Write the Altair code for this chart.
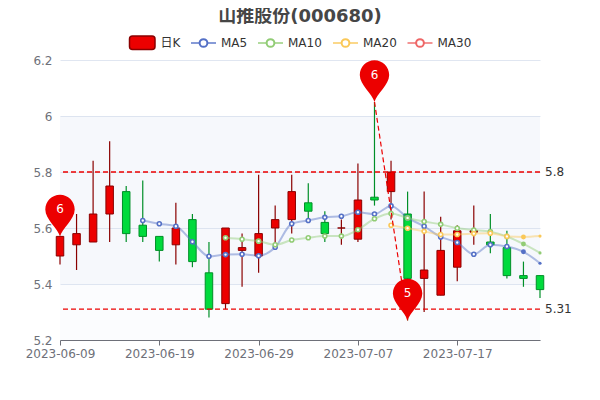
import json
import altair as alt
import pandas as pd

dates = ["2023-06-09","2023-06-12","2023-06-13","2023-06-14","2023-06-15","2023-06-16","2023-06-19",
         "2023-06-20","2023-06-21","2023-06-26","2023-06-27","2023-06-28","2023-06-29","2023-06-30",
         "2023-07-03","2023-07-04","2023-07-05","2023-07-06","2023-07-07","2023-07-10","2023-07-11",
         "2023-07-12","2023-07-13","2023-07-14","2023-07-17","2023-07-18","2023-07-19","2023-07-20",
         "2023-07-21","2023-07-24"]
opens  = [5.50,5.54,5.55,5.65,5.73,5.61,5.57,5.54,5.63,5.44,5.33,5.52,5.50,5.60,5.63,5.69,5.62,5.60,5.56,5.71,5.73,5.65,5.42,5.36,5.46,5.585,5.55,5.53,5.43,5.43]
closes = [5.57,5.58,5.65,5.75,5.58,5.57,5.52,5.60,5.48,5.31,5.60,5.53,5.58,5.63,5.73,5.66,5.58,5.60,5.70,5.70,5.80,5.42,5.45,5.52,5.59,5.59,5.54,5.43,5.42,5.38]
highs  = [5.57,5.65,5.84,5.91,5.75,5.77,5.57,5.69,5.65,5.55,5.60,5.58,5.79,5.68,5.79,5.76,5.66,5.63,5.83,6.05,5.84,5.73,5.73,5.64,5.61,5.68,5.65,5.59,5.48,5.43]
lows   = [5.47,5.45,5.55,5.55,5.55,5.55,5.48,5.47,5.46,5.28,5.31,5.39,5.44,5.54,5.58,5.63,5.55,5.54,5.55,5.68,5.63,5.27,5.30,5.36,5.41,5.54,5.51,5.42,5.39,5.35]
ma5  = [None]*5 + [5.627,5.615,5.606,5.551,5.499,5.505,5.506,5.501,5.531,5.615,5.627,5.638,5.642,5.656,5.650,5.679,5.636,5.606,5.568,5.548,5.506,5.540,5.534,5.515,5.474]
ma10 = [None]*10 + [5.565,5.560,5.553,5.540,5.557,5.565,5.571,5.571,5.594,5.633,5.652,5.636,5.623,5.613,5.599,5.593,5.587,5.570,5.543,5.511]
ma20 = [None]*20 + [5.610,5.599,5.588,5.577,5.577,5.580,5.581,5.570,5.568,5.571]
pin_dates = ["2023-06-09","2023-07-10","2023-07-12"]
pin_values = [5.57,6.05,5.27]
pin_labels = ["6","6","5"]
ref_values = [5.8,5.31]
ref_labels = ["5.8","5.31"]
y_ticks = [5.2,5.4,5.6,5.8,6.0,6.2]
x_ticks = list(range(0, 30, 6))

FONT = "DejaVu Sans, Noto Sans CJK SC"
RED, GREEN, DRED, DGREEN = "#ec0000", "#00da3c", "#8a0000", "#008f28"
MA_COLORS = {"MA5": "#5470c6", "MA10": "#91cc75", "MA20": "#fac858", "MA30": "#ee6666"}
PIN = "M0,0 C-2,-8 -14.7,-17 -14.7,-27 A14.7,14.7 0 1 1 14.7,-27 C14.7,-17 2,-8 0,0 Z"

candles = pd.DataFrame({"x": range(len(dates)), "d": dates, "o": opens, "c": closes, "h": highs, "l": lows})
candles["dir"] = ["up" if c >= o else "down" for o, c in zip(opens, closes)]

rows = []
for name, series in [("MA5", ma5), ("MA10", ma10), ("MA20", ma20)]:
    for i, v in enumerate(series):
        if v is not None:
            rows.append({"x": i, "v": v, "s": name})
ma = pd.DataFrame(rows)

x_axis = alt.Axis(values=x_ticks, labelExpr=json.dumps(dates) + "[datum.value]", labelAngle=0,
                  labelOverlap=False, labelFlush=False, labelBound=False,
                  grid=False, domainColor="#6e7079", tickColor="#6e7079", tickSize=5,
                  labelColor="#6e7079", labelFontSize=12, labelFont=FONT, labelPadding=3)
x_enc = alt.X("x:Q", scale=alt.Scale(domain=[0, len(dates) - 1], nice=False, zero=False, padding=0),
              title=None, axis=x_axis)
y_scale = alt.Scale(domain=[5.2, 6.2], nice=False, zero=False)
y_axis = alt.Axis(values=y_ticks, format="~g", title=None, domain=False, ticks=False,
                  gridColor="#e0e6f1", grid=True, labelColor="#6e7079", labelFontSize=12,
                  labelFont=FONT, labelPadding=8)
def Y(f):
    return alt.Y(f, scale=y_scale, axis=y_axis, title=None)
ma_stroke = alt.Color("s:N", scale=alt.Scale(domain=list(MA_COLORS), range=list(MA_COLORS.values())), legend=None)
wick_stroke = alt.Stroke("dir:N", scale=alt.Scale(domain=["up", "down"], range=[DRED, DGREEN]), legend=None)
body_fill = alt.Fill("dir:N", scale=alt.Scale(domain=["up", "down"], range=[RED, GREEN]), legend=None)

one = alt.Data(values=[{"a": 1}])

bands = alt.Chart(pd.DataFrame({"a": [5.4, 5.2], "b": [6.0, 5.4], "k": [0.2, 0.08]})).mark_rect(
    fill="#d2dbee", stroke=None).encode(
    y=Y("a:Q"), y2="b:Q", opacity=alt.Opacity("k:Q", scale=None))

wicks = alt.Chart(candles).mark_rule(strokeWidth=1.2).encode(
    x=x_enc, y=Y("l:Q"), y2="h:Q", stroke=wick_stroke)
bodies = alt.Chart(candles).mark_bar(size=7.5, strokeWidth=1).encode(
    x=x_enc, y=Y("o:Q"), y2="c:Q", fill=body_fill, stroke=wick_stroke)

lines = alt.Chart(ma).mark_line(interpolate="monotone", strokeWidth=2, opacity=0.45).encode(
    x=x_enc, y=Y("v:Q"), color=ma_stroke, detail="s:N")
open_pts = alt.Chart(ma[ma.x < 28]).mark_point(
    filled=False, fill="white", size=16, strokeWidth=1.6, opacity=1).encode(x=x_enc, y=Y("v:Q"), color=ma_stroke)
solid_a = alt.Chart(ma[ma.x == 28]).mark_point(filled=True, size=24, opacity=1).encode(x=x_enc, y=Y("v:Q"), color=ma_stroke)
solid_b = alt.Chart(ma[ma.x == 29]).mark_point(filled=True, size=10, opacity=1).encode(x=x_enc, y=Y("v:Q"), color=ma_stroke)

refs = alt.Chart(pd.DataFrame({"v": ref_values, "t": ref_labels}))
ref_rules = refs.mark_rule(color=RED, strokeWidth=1.3, strokeDash=[5, 3]).encode(y=Y("v:Q"))
ref_text = refs.mark_text(align="left", baseline="middle", fontSize=12, color="#333333", font=FONT).encode(
    x=alt.value(485), y=Y("v:Q"), text="t:N")

pins_df = pd.DataFrame({"x": [dates.index(d) for d in pin_dates], "v": pin_values, "t": pin_labels})
link = alt.Chart(pins_df.iloc[1:]).mark_line(
    color=RED, strokeWidth=1.2, strokeDash=[5, 3]).encode(x=x_enc, y=Y("v:Q"))
pins = alt.Chart(pins_df).mark_point(shape=PIN, filled=True, fill=RED, stroke=None, size=4, opacity=1).encode(
    x=x_enc, y=Y("v:Q"))
pin_text = alt.Chart(pins_df).mark_text(color="white", fontSize=12, dy=-27, baseline="middle", font=FONT).encode(
    x=x_enc, y=Y("v:Q"), text="t:N")

# legend: positions relative to the plot origin
legend = [
    alt.Chart(one).mark_rect(fill=RED, stroke=DRED, strokeWidth=1.5, cornerRadius=3).encode(
        x=alt.value(69.5), x2=alt.value(95), y=alt.value(-24), y2=alt.value(-10.5)),
    alt.Chart(one).mark_text(text="日K", align="left", baseline="middle", fontSize=12, color="#333333", font=FONT).encode(
        x=alt.value(100.5), y=alt.value(-17)),
]
for name, lx in [("MA5", 131), ("MA10", 198), ("MA20", 273), ("MA30", 347.5)]:
    col = MA_COLORS[name]
    legend += [
        alt.Chart(one).mark_rule(stroke=col, strokeWidth=2, opacity=0.7).encode(
            x=alt.value(lx), x2=alt.value(lx + 25), y=alt.value(-17)),
        alt.Chart(one).mark_point(filled=False, fill="white", stroke=col, size=60, strokeWidth=2, opacity=1).encode(
            x=alt.value(lx + 12.5), y=alt.value(-17)),
        alt.Chart(one).mark_text(text=name, align="left", baseline="middle", fontSize=12, color="#333333", font=FONT).encode(
            x=alt.value(lx + 30), y=alt.value(-17)),
    ]

chart = alt.layer(bands, wicks, bodies, lines, open_pts, solid_a, solid_b, ref_rules, ref_text, link,
                  pins, pin_text, *legend).resolve_scale(x="shared", y="shared").properties(
    width=480, height=280,
    title=alt.TitleParams("山推股份(000680)", anchor="middle", fontSize=18, fontWeight="bold",
                          color="#464646", font=FONT, offset=9),
    padding={"left": 52, "top": 52, "right": 52, "bottom": 50},
    autosize=alt.AutoSizeParams(type="none"),
).configure_view(stroke=None)

chart.save("out.html", embed_options={"renderer": "svg", "actions": False})
